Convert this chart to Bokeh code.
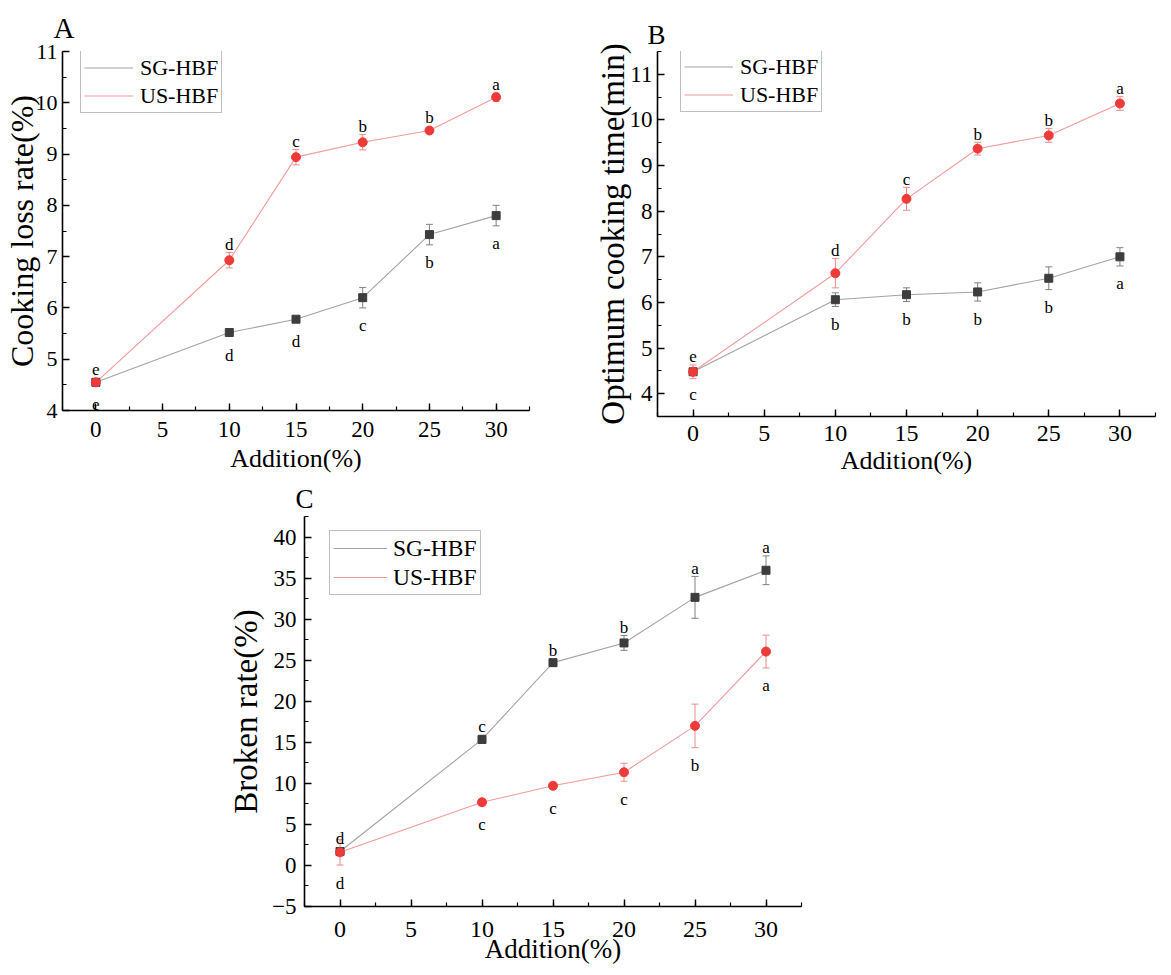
from bokeh.plotting import figure
from bokeh.models import (ColumnDataSource, Whisker, TeeHead, Legend, LegendItem,
                          SingleIntervalTicker, Range1d, Spacer)
from bokeh.layouts import row, column
from bokeh.embed import file_html
from bokeh.resources import INLINE
from bokeh.core.properties import value

# ---------------- data ----------------
addition = [0, 10, 15, 20, 25, 30]
x_ticks_step = 5

# Panel A: Cooking loss rate (%)
a_sg = [4.55, 5.52, 5.78, 6.20, 7.43, 7.80]
a_sg_err = [0.04, 0.07, 0.03, 0.20, 0.20, 0.20]
a_us = [4.55, 6.93, 8.94, 9.23, 9.46, 10.11]
a_us_err = [0.04, 0.15, 0.15, 0.15, 0.05, 0.08]
a_sg_sig = ["e", "d", "d", "c", "b", "a"]
a_us_sig = ["e", "d", "c", "b", "b", "a"]

# Panel B: Optimum cooking time (min)
b_sg = [4.48, 6.06, 6.17, 6.23, 6.53, 7.00]
b_sg_err = [0.05, 0.15, 0.15, 0.20, 0.25, 0.20]
b_us = [4.48, 6.64, 8.27, 9.37, 9.66, 10.36]
b_us_err = [0.15, 0.32, 0.25, 0.14, 0.15, 0.15]
b_sg_sig = ["c", "b", "b", "b", "b", "a"]
b_us_sig = ["e", "d", "c", "b", "b", "a"]

# Panel C: Broken rate (%)
c_sg = [1.70, 15.35, 24.70, 27.10, 32.65, 35.95]
c_sg_err = [0.30, 0.50, 0.40, 0.90, 2.55, 1.75]
c_us = [1.60, 7.70, 9.70, 11.35, 17.00, 26.05]
c_us_err = [1.55, 0.40, 0.40, 1.10, 2.65, 2.00]
c_sg_sig = ["d", "c", "b", "b", "a", "a"]
c_us_sig = ["d", "c", "c", "c", "b", "a"]

series_names = ["SG-HBF", "US-HBF"]

# ---------------- styles ----------------
FONT = "Liberation Serif"
SG_LINE = "#a3a3a3"
SG_MARK = "#3d3d3d"
SG_ERR = "#808080"
US_LINE = "#f29a9a"
US_MARK = "#ef3a3a"
US_ERR = "#f08a8a"


def panel(letter, ylabel, yr, ystep, sg, sg_err, us, us_err, sg_sig, us_sig,
          sg_above, geom, st):
    fw, fh, bl, bt, br, bb = geom
    p = figure(frame_width=fw, frame_height=fh,
               min_border_left=bl, min_border_top=bt,
               min_border_right=br, min_border_bottom=bb,
               x_range=Range1d(-2.5, 32.5), y_range=Range1d(*yr),
               output_backend="svg", toolbar_location=None)
    p.xgrid.visible = False
    p.ygrid.visible = False
    p.outline_line_color = None
    p.background_fill_color = "white"
    p.border_fill_color = "white"

    p.title.text = letter
    p.title.text_font = FONT
    p.title.text_font_style = "normal"
    p.title.text_font_size = st["lfs"]
    p.title.text_color = "black"
    p.title.align = "left"
    p.title.offset = st["loff"]
    p.title.standoff = st["lstand"]

    p.xaxis.ticker = SingleIntervalTicker(interval=x_ticks_step, num_minor_ticks=2)
    p.yaxis.ticker = SingleIntervalTicker(interval=ystep, num_minor_ticks=2)
    for ax in (p.xaxis, p.yaxis):
        ax.axis_line_color = "black"
        ax.axis_line_width = 1.6
        ax.major_tick_line_color = "black"
        ax.minor_tick_line_color = "black"
        ax.major_tick_line_width = 1.4
        ax.minor_tick_line_width = 1.2
        ax.major_tick_in = 7
        ax.major_tick_out = 0
        ax.minor_tick_in = 4
        ax.minor_tick_out = 0
        ax.major_label_text_font = FONT
        ax.major_label_text_color = "black"
        ax.axis_label_text_font = FONT
        ax.axis_label_text_font_style = "normal"
        ax.axis_label_text_color = "black"

    p.xaxis.axis_label = "Addition(%)"
    p.xaxis.axis_label_text_font_size = st["xlab"]
    p.xaxis.major_label_text_font_size = st["xtick"]
    p.xaxis.major_label_standoff = st["xstand"]
    p.xaxis.axis_label_standoff = st["xlstand"]

    p.yaxis.axis_label = ylabel
    p.yaxis.axis_label_text_font_size = st["ylab"]
    p.yaxis.major_label_text_font_size = st["ytick"]
    p.yaxis.major_label_standoff = st["ystand"]
    p.yaxis.axis_label_standoff = st["ylstand"]

    sg_line = p.line(addition, sg, line_color=SG_LINE, line_width=1.1)
    us_line = p.line(addition, us, line_color=US_LINE, line_width=1.1)

    for vals, errs, col in ((sg, sg_err, SG_ERR), (us, us_err, US_ERR)):
        src = ColumnDataSource(dict(x=addition,
                                    lo=[v - e for v, e in zip(vals, errs)],
                                    hi=[v + e for v, e in zip(vals, errs)]))
        w = Whisker(source=src, base="x", lower="lo", upper="hi",
                    line_color=col, line_width=1,
                    upper_head=TeeHead(size=7, line_color=col, line_width=1),
                    lower_head=TeeHead(size=7, line_color=col, line_width=1))
        p.add_layout(w)

    p.scatter(addition, sg, marker="square", size=8,
              fill_color=SG_MARK, line_color=SG_MARK)
    p.scatter(addition, us, marker="circle", size=9,
              fill_color=US_MARK, line_color=US_MARK)

    # significance letters
    ppu = fh / (yr[1] - yr[0])
    for vals, errs, sig, above in ((sg, sg_err, sg_sig, sg_above),
                                   (us, us_err, us_sig, not sg_above)):
        offs = []
        for e in errs:
            d = max(e * ppu, 4.5)
            offs.append(-(d + 8) if above else (d + 18))
        src = ColumnDataSource(dict(x=addition, y=vals, t=sig, off=offs))
        p.text(x="x", y="y", text="t", y_offset="off", source=src,
               text_align="center", text_baseline="alphabetic",
               text_font=value(FONT), text_font_size="17px", text_color="black")

    lg = st["legend"]
    legend = Legend(items=[LegendItem(label=series_names[0], renderers=[sg_line]),
                           LegendItem(label=series_names[1], renderers=[us_line])],
                    location=(lg["x"], fh - lg["top"] - lg["h"]),
                    label_text_font=FONT, label_text_font_size=lg["fs"],
                    label_text_color="black",
                    glyph_width=lg["gw"], glyph_height=lg["rh"],
                    label_height=lg["rh"], label_standoff=lg["so"],
                    padding=lg["pad"], spacing=1, margin=0,
                    border_line_color="#808080", border_line_width=1,
                    background_fill_color="white", background_fill_alpha=1)
    p.add_layout(legend)
    return p


pA = panel("A", "Cooking loss rate(%)", (4, 11), 1,
           a_sg, a_sg_err, a_us, a_us_err, a_sg_sig, a_us_sig, False,
           (467, 359, 57, 50, 56, 68),
           dict(xlab="26px", xtick="23px", xstand=11, xlstand=4,
                ylab="32px", ytick="22px", ystand=5, ylstand=-7,
                legend=dict(x=18, top=3, h=59, fs="22px", gw=49, rh=27, so=7, pad=3),
                loff=-9, lstand=16, lfs="29px"))

pB = panel("B", "Optimum cooking time(min)", (3.5, 11.5), 1,
           b_sg, b_sg_err, b_us, b_us_err, b_sg_sig, b_us_sig, False,
           (498, 365, 72, 51, 5, 61),
           dict(xlab="26px", xtick="24px", xstand=9, xlstand=2,
                ylab="33px", ytick="23px", ystand=5, ylstand=-4,
                legend=dict(x=23, top=2, h=59, fs="22px", gw=49, rh=27, so=7, pad=3),
                loff=-10, lstand=3, lfs="27px"))

pC = panel("C", "Broken rate(%)", (-5, 42.5), 5,
           c_sg, c_sg_err, c_us, c_us_err, c_sg_sig, c_us_sig, True,
           (497, 390, 84, 39, 40, 61),
           dict(xlab="27px", xtick="24px", xstand=15, xlstand=-6,
                ylab="33px", ytick="23px", ystand=8, ylstand=5,
                legend=dict(x=25, top=18, h=61, fs="23.5px", gw=54, rh=28, so=6, pad=3),
                loff=-9, lstand=5, lfs="27px"))

layout = column(row(pA, pB), row(Spacer(width=220, height=10), pC))

open("out.html", "w").write(file_html(layout, INLINE))
